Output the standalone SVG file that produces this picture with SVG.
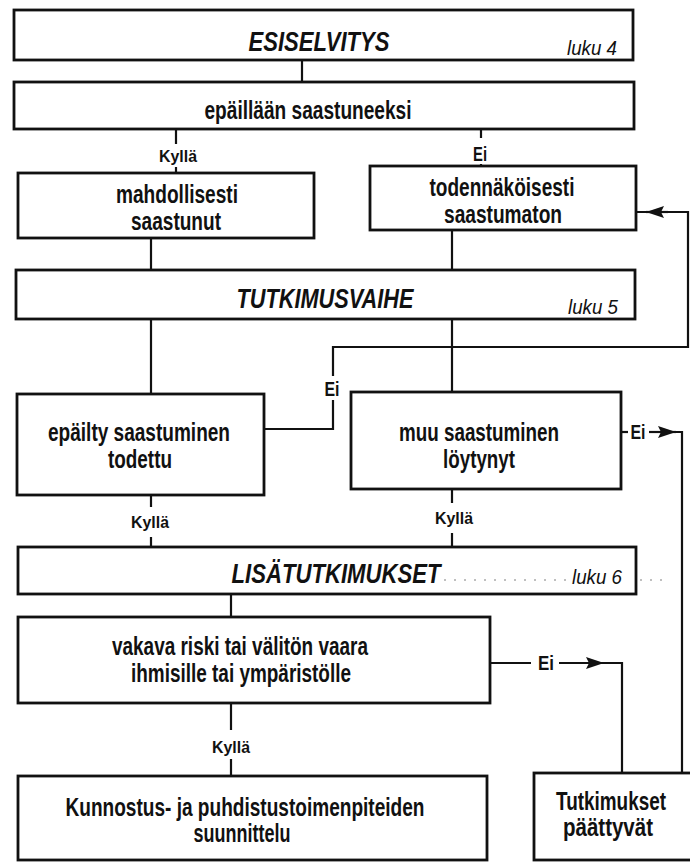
<svg xmlns="http://www.w3.org/2000/svg" width="690" height="862" viewBox="0 0 690 862">
<style>
.box{fill:#fff;stroke:#111;stroke-width:2.8}
.ln{fill:none;stroke:#111;stroke-width:2.2}
.t{font-family:"Liberation Sans",Arial,sans-serif;font-weight:bold;font-size:25px;fill:#111;text-anchor:middle}
.h{font-family:"Liberation Sans",Arial,sans-serif;font-weight:bold;font-style:italic;font-size:27px;fill:#111;text-anchor:middle}
.lk{font-family:"Liberation Sans",Arial,sans-serif;font-style:italic;font-size:20px;fill:#111;text-anchor:start}
.k{font-family:"Liberation Sans",Arial,sans-serif;font-weight:bold;font-size:17px;fill:#111;text-anchor:middle}
.e{font-family:"Liberation Sans",Arial,sans-serif;font-weight:bold;font-size:21px;fill:#111;text-anchor:middle}
.dot{fill:none;stroke:#aaa;stroke-width:1.3;stroke-dasharray:2 8}
</style>
<defs>
<marker id="ah" markerWidth="18" markerHeight="12" refX="18" refY="6" orient="auto" markerUnits="userSpaceOnUse">
<path d="M0,0 L18,6 L0,12 L3,6 Z" fill="#111"/>
</marker>
</defs>

<g id="connectors">
<line class="ln" x1="302" y1="60" x2="302" y2="82"/>
<line class="ln" x1="176" y1="129" x2="176" y2="144"/>
<line class="ln" x1="176" y1="167" x2="176" y2="173"/>
<line class="ln" x1="481" y1="129" x2="481" y2="138"/>
<line class="ln" x1="481" y1="164" x2="481" y2="166"/>
<line class="ln" x1="151" y1="238" x2="151" y2="270"/>
<line class="ln" x1="452" y1="230" x2="452" y2="270"/>
<line class="ln" x1="151" y1="319" x2="151" y2="394"/>
<line class="ln" x1="452" y1="319" x2="452" y2="392"/>
<polyline class="ln" points="264,429 333,429 333,400"/>
<polyline class="ln" points="333,376 333,347 688,347 688,212 637,212"/>
<line class="ln" x1="668" y1="212" x2="646" y2="212" marker-end="url(#ah)"/>
<line class="ln" x1="621" y1="432" x2="628" y2="432"/>
<line class="ln" x1="649" y1="432" x2="676" y2="432" marker-end="url(#ah)"/>
<polyline class="ln" points="672,432 682,432 682,773"/>
<line class="ln" x1="151" y1="495" x2="151" y2="507"/>
<line class="ln" x1="151" y1="537" x2="151" y2="547"/>
<line class="ln" x1="452" y1="489" x2="452" y2="503"/>
<line class="ln" x1="452" y1="533" x2="452" y2="547"/>
<line class="ln" x1="231" y1="594" x2="231" y2="617"/>
<line class="ln" x1="490" y1="663" x2="531" y2="663"/>
<line class="ln" x1="559" y1="663" x2="604" y2="663" marker-end="url(#ah)"/>
<polyline class="ln" points="600,663 622,663 622,773"/>
<line class="ln" x1="231" y1="703" x2="231" y2="730"/>
<line class="ln" x1="231" y1="759" x2="231" y2="776"/>
</g>

<g id="labels">
<text class="k" x="178" y="162" textLength="38" lengthAdjust="spacingAndGlyphs">Kyllä</text>
<text class="e" x="480" y="161" font-size="24" textLength="14" lengthAdjust="spacingAndGlyphs">Ei</text>
<text class="e" x="332" y="396" textLength="15" lengthAdjust="spacingAndGlyphs">Ei</text>
<text class="e" x="638" y="439" textLength="15" lengthAdjust="spacingAndGlyphs">Ei</text>
<text class="k" x="150" y="528" textLength="38" lengthAdjust="spacingAndGlyphs">Kyllä</text>
<text class="k" x="454" y="524" textLength="38" lengthAdjust="spacingAndGlyphs">Kyllä</text>
<text class="e" x="546" y="670" textLength="16" lengthAdjust="spacingAndGlyphs">Ei</text>
<text class="k" x="231" y="753" textLength="38" lengthAdjust="spacingAndGlyphs">Kyllä</text>
</g>

<g id="esiselvitys">
<rect class="box" x="14" y="10" width="619" height="50"/>
<text class="h" x="319" y="51" textLength="141" lengthAdjust="spacingAndGlyphs">ESISELVITYS</text>
<text class="lk" x="567" y="55" textLength="50" lengthAdjust="spacingAndGlyphs">luku 4</text>
</g>

<g id="epaillaan">
<rect class="box" x="14" y="82" width="620" height="47"/>
<text class="t" x="308" y="119" textLength="207" lengthAdjust="spacingAndGlyphs">epäillään saastuneeksi</text>
</g>

<g id="mahdollisesti">
<rect class="box" x="18" y="173" width="296" height="65"/>
<text class="t" x="177" y="203" textLength="122" lengthAdjust="spacingAndGlyphs">mahdollisesti</text>
<text class="t" x="176" y="230" textLength="90" lengthAdjust="spacingAndGlyphs">saastunut</text>
</g>

<g id="todennakoisesti">
<rect class="box" x="370" y="166" width="266" height="64"/>
<text class="t" x="502" y="196" textLength="145" lengthAdjust="spacingAndGlyphs">todennäköisesti</text>
<text class="t" x="503" y="223" textLength="118" lengthAdjust="spacingAndGlyphs">saastumaton</text>
</g>

<g id="tutkimusvaihe">
<rect class="box" x="16" y="270" width="619" height="49"/>
<text class="h" x="325" y="308" textLength="177" lengthAdjust="spacingAndGlyphs">TUTKIMUSVAIHE</text>
<text class="lk" x="568" y="314" textLength="50" lengthAdjust="spacingAndGlyphs">luku 5</text>
</g>

<g id="epailty">
<rect class="box" x="17" y="394" width="247" height="101"/>
<text class="t" x="139" y="441" textLength="182" lengthAdjust="spacingAndGlyphs">epäilty saastuminen</text>
<text class="t" x="140" y="468" textLength="64" lengthAdjust="spacingAndGlyphs">todettu</text>
</g>

<g id="muu">
<rect class="box" x="351" y="392" width="270" height="97"/>
<text class="t" x="479" y="441" textLength="160" lengthAdjust="spacingAndGlyphs">muu saastuminen</text>
<text class="t" x="479" y="468" textLength="72" lengthAdjust="spacingAndGlyphs">löytynyt</text>
</g>

<g id="lisatutkimukset">
<rect class="box" x="18" y="547" width="618" height="47"/>
<text class="h" x="336" y="583" textLength="209" lengthAdjust="spacingAndGlyphs">LISÄTUTKIMUKSET</text>
<text class="lk" x="572" y="584" textLength="50" lengthAdjust="spacingAndGlyphs">luku 6</text>
</g>

<g id="vakava">
<rect class="box" x="18" y="617" width="472" height="86"/>
<text class="t" x="240" y="655" font-size="23" textLength="256" lengthAdjust="spacingAndGlyphs">vakava riski tai välitön vaara</text>
<text class="t" x="241" y="682" font-size="23" textLength="220" lengthAdjust="spacingAndGlyphs">ihmisille tai ympäristölle</text>
</g>

<g id="kunnostus">
<rect class="box" x="18" y="776" width="469" height="84"/>
<text class="t" x="245" y="816" textLength="359" lengthAdjust="spacingAndGlyphs">Kunnostus- ja puhdistustoimenpiteiden</text>
<text class="t" x="242" y="842" textLength="97" lengthAdjust="spacingAndGlyphs">suunnittelu</text>
</g>

<g id="tutkimukset">
<rect class="box" x="534" y="773" width="158" height="87"/>
<text class="t" x="611" y="810" textLength="110" lengthAdjust="spacingAndGlyphs">Tutkimukset</text>
<text class="t" x="608" y="836" textLength="90" lengthAdjust="spacingAndGlyphs">päättyvät</text>
</g>

<g id="scan-dots">
<line class="dot" x1="444" y1="580" x2="566" y2="580"/>
<line class="dot" x1="640" y1="580" x2="664" y2="580"/>
</g>
</svg>
